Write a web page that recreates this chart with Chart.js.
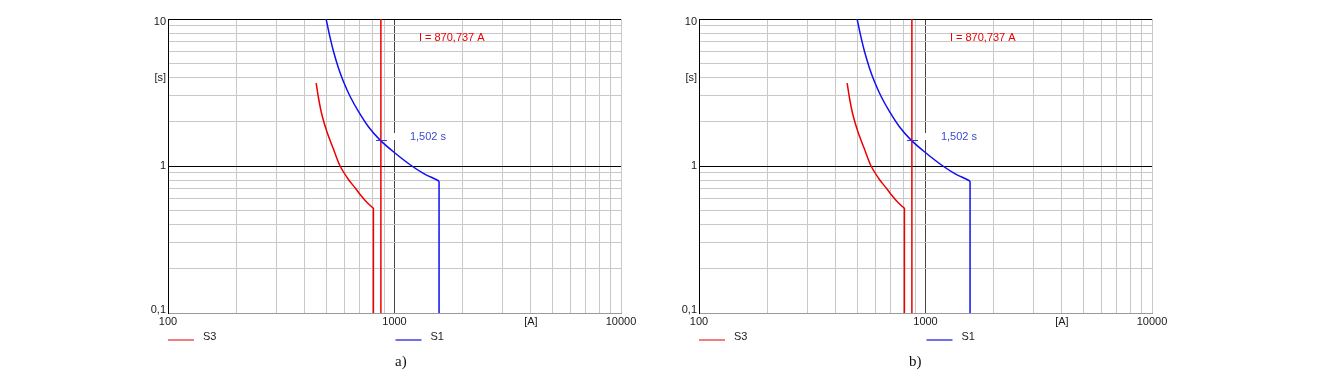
<!DOCTYPE html>
<html>
<head>
<meta charset="utf-8">
<script src="https://cdn.jsdelivr.net/npm/chart.js@4.4.1/dist/chart.umd.min.js"></script>
<style>
  html, body { margin: 0; padding: 0; background: #fff; }
  body { width: 1322px; height: 378px; position: relative; overflow: hidden; }
  canvas { position: absolute; top: 0; }
  #c1 { left: 120px; }
  #c2 { left: 651px; }
  .cap { position: absolute; top: 353px; font: 15px "Liberation Serif", "DejaVu Serif", serif; color: #111; }
</style>
</head>
<body>
<canvas id="c1" width="540" height="378"></canvas>
<canvas id="c2" width="540" height="378"></canvas>
<div class="cap" style="left:395px">a)</div>
<div class="cap" style="left:909px">b)</div>
<script>
// time-current curves (A, s)
// the knee point is listed twice so the smoothed line keeps a sharp corner
const S1_CURRENT = [499, 516, 538, 566, 595, 637, 693, 767, 864, 989, 1172, 1341, 1562, 1573, 1573, 1573];
const S1_TIME    = [10, 7.82, 6.01, 4.63, 3.76, 2.97, 2.35, 1.85, 1.50, 1.25, 1.02, 0.892, 0.794, 0.78, 0.78, 0.1];

const S3_CURRENT = [451, 462, 478, 503, 536, 575, 626, 675, 705, 755, 807, 807, 807];
const S3_TIME    = [3.66, 2.89, 2.23, 1.71, 1.32, 1.0, 0.81, 0.70, 0.64, 0.566, 0.515, 0.515, 0.1];

// fault current marker and the trip time read there
const MARK_I = 870.737;
const MARK_T = 1.502;
const MARK_I_TEXT = 'I = 870,737 A';
const MARK_T_TEXT = '1,502 s';

const X_GRID = [100, 200, 300, 400, 500, 600, 700, 800, 900,
                1000, 2000, 3000, 4000, 5000, 6000, 7000, 8000, 9000, 10000];
const Y_GRID = [0.1, 0.2, 0.3, 0.4, 0.5, 0.6, 0.7, 0.8, 0.9,
                1, 2, 3, 4, 5, 6, 7, 8, 9, 10];
const X_LABELS = { 100: '100', 1000: '1000', 4000: '[A]', 10000: '10000' };
const Y_LABELS = { 0.1: ['0,1', ''], 1: '1', 4: '[s]', 10: ['', '10'] };

const RED = '#ee0000';
const BLUE = '#1010f0';

const zip = (xs, ys) => xs.map((v, i) => ({ x: v, y: ys[i] }));

const FAMILY = '"Liberation Sans", Arial, sans-serif';
const tickFont = { family: FAMILY, size: 11 };

// 0,1 sits a bit above its line, 10 a bit below
const yTickFont = (c) => {
  const v = c.tick && c.tick.value;
  if (v === 0.1) return { family: FAMILY, size: 11, lineHeight: '7px' };
  if (v === 10) return { family: FAMILY, size: 11, lineHeight: '5px' };
  return tickFont;
};

// text marks at the marker, legend row under the axis
const markPlugin = {
  id: 'mark',
  beforeDatasetsDraw(chart) {
    const { ctx, scales: { x, y } } = chart;
    const px = x.getPixelForValue(MARK_I), py = y.getPixelForValue(MARK_T);
    ctx.save();
    ctx.fillStyle = '#fff';
    ctx.fillRect(px + 9, py - 7, 9, 7);
    ctx.restore();
  },
  afterDatasetsDraw(chart) {
    const { ctx, chartArea, scales: { x, y } } = chart;
    const px = x.getPixelForValue(MARK_I), py = y.getPixelForValue(MARK_T);
    ctx.save();
    ctx.strokeStyle = '#3040d0';
    ctx.lineWidth = 1;
    ctx.beginPath();
    ctx.moveTo(Math.round(px) - 5, Math.round(py) + 0.5);
    ctx.lineTo(Math.round(px) + 6, Math.round(py) + 0.5);
    ctx.stroke();
    ctx.font = '11px ' + FAMILY;
    ctx.textBaseline = 'middle';
    ctx.fillStyle = RED;
    ctx.fillText(MARK_I_TEXT, px + 38, chartArea.top + 18.5);
    ctx.fillStyle = '#3a4ccc';
    ctx.fillText(MARK_T_TEXT, px + 29, py - 3.5);
    ctx.restore();
  },
  afterDraw(chart) {
    const { ctx, chartArea, scales: { x } } = chart;
    const items = [
      { ds: chart.data.datasets[0], x0: chartArea.left },
      { ds: chart.data.datasets[1], x0: x.getPixelForValue(1000) + 1 }
    ];
    const ly = chartArea.bottom + 27;
    ctx.save();
    ctx.font = '11px ' + FAMILY;
    ctx.textBaseline = 'middle';
    items.forEach(it => {
      ctx.fillStyle = it.ds.backgroundColor;
      ctx.fillRect(it.x0, ly - 1, 26, 2);
      ctx.fillStyle = '#222';
      ctx.fillText(it.ds.label, it.x0 + 35, ly - 3);
    });
    ctx.restore();
  }
};

function makeChart(id) {
  const ctx = document.getElementById(id).getContext('2d');
  return new Chart(ctx, {
    type: 'scatter',
    data: {
      datasets: [
        {
          label: 'S3',
          data: zip(S3_CURRENT, S3_TIME),
          borderColor: RED,
          backgroundColor: '#f08080',
          borderWidth: 1.5,
          showLine: true,
          tension: 0.3,
          pointRadius: 0
        },
        {
          label: 'S1',
          data: zip(S1_CURRENT, S1_TIME),
          borderColor: BLUE,
          backgroundColor: '#7070ec',
          borderWidth: 1.5,
          showLine: true,
          tension: 0.3,
          pointRadius: 0
        },
        {
          label: 'I',
          data: [{ x: MARK_I, y: 0.1 }, { x: MARK_I, y: 10 }],
          borderColor: RED,
          borderWidth: 1.5,
          showLine: true,
          pointRadius: 0
        }
      ]
    },
    options: {
      responsive: false,
      animation: false,
      layout: { padding: { top: 19, right: 39, bottom: 47, left: 0 } },
      plugins: {
        legend: { display: false },
        tooltip: { enabled: false }
      },
      scales: {
        x: {
          type: 'logarithmic',
          min: 100,
          max: 10000,
          afterBuildTicks: (scale) => { scale.ticks = X_GRID.map(v => ({ value: v })); },
          afterFit: (scale) => { scale.height = 18; },
          ticks: {
            autoSkip: false,
            maxRotation: 0,
            padding: 2,
            color: '#1a1a1a',
            font: tickFont,
            callback: (val) => X_LABELS[val] || ''
          },
          grid: {
            drawTicks: false,
            color: (c) => c.tick && c.tick.value === 1000 ? '#444444' : '#c8c8c8'
          },
          border: { color: '#9a9a9a' }
        },
        y: {
          type: 'logarithmic',
          min: 0.1,
          max: 10,
          afterBuildTicks: (scale) => { scale.ticks = Y_GRID.map(v => ({ value: v })); },
          afterFit: (scale) => { scale.width = 48; },
          ticks: {
            autoSkip: false,
            padding: 2,
            color: '#1a1a1a',
            font: yTickFont,
            callback: (val) => Y_LABELS[val] || ''
          },
          grid: {
            drawTicks: false,
            color: (c) => c.tick && (c.tick.value === 1 || c.tick.value === 10) ? '#000000' : '#c8c8c8'
          },
          border: { color: '#000000' }
        }
      }
    },
    plugins: [markPlugin]
  });
}

makeChart('c1');
makeChart('c2');
</script>
</body>
</html>
